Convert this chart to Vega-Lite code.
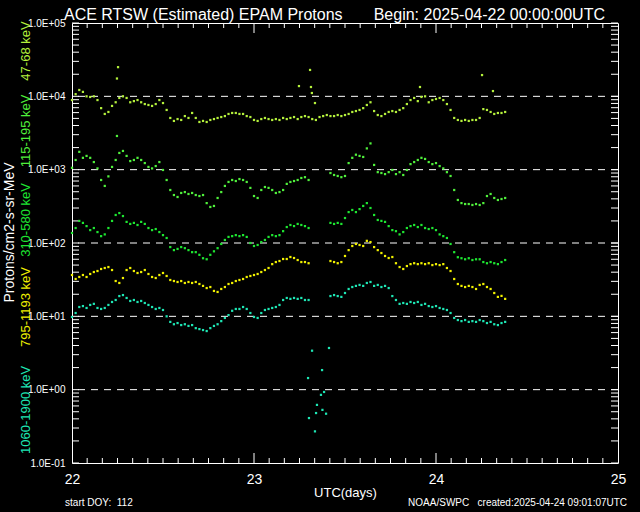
{
"$schema": "https://vega.github.io/schema/vega-lite/v6.json",
"width": 546, "height": 440,
"autosize": {"type": "none"},
"padding": {"left": 72, "top": 23, "right": 22, "bottom": 49},
"background": "black",
"config": {"view": {"stroke": "white", "strokeWidth": 1}, "axis": {"domainColor": "white", "tickColor": "white", "labelColor": "white", "titleColor": "white", "labelFont": "Liberation Sans", "titleFont": "Liberation Sans", "grid": false, "domain": false, "ticks": false}},
"datasets": {
"yticks": [{"v":0.1},{"v":0.2},{"v":0.3},{"v":0.4},{"v":0.5},{"v":0.6},{"v":0.7},{"v":0.8},{"v":0.9},{"v":1},{"v":2},{"v":3},{"v":4},{"v":5},{"v":6},{"v":7},{"v":8},{"v":9},{"v":10},{"v":20},{"v":30},{"v":40},{"v":50},{"v":60},{"v":70},{"v":80},{"v":90},{"v":100},{"v":200},{"v":300},{"v":400},{"v":500},{"v":600},{"v":700},{"v":800},{"v":900},{"v":1000},{"v":2000},{"v":3000},{"v":4000},{"v":5000},{"v":6000},{"v":7000},{"v":8000},{"v":9000},{"v":10000},{"v":20000},{"v":30000},{"v":40000},{"v":50000},{"v":60000},{"v":70000},{"v":80000},{"v":90000},{"v":100000}],
"xminor": [{"t":22.0833},{"t":22.1667},{"t":22.25},{"t":22.3333},{"t":22.4167},{"t":22.5},{"t":22.5833},{"t":22.6667},{"t":22.75},{"t":22.8333},{"t":22.9167},{"t":23.0833},{"t":23.1667},{"t":23.25},{"t":23.3333},{"t":23.4167},{"t":23.5},{"t":23.5833},{"t":23.6667},{"t":23.75},{"t":23.8333},{"t":23.9167},{"t":24.0833},{"t":24.1667},{"t":24.25},{"t":24.3333},{"t":24.4167},{"t":24.5},{"t":24.5833},{"t":24.6667},{"t":24.75},{"t":24.8333},{"t":24.9167}],
"xmajor": [{"t":23},{"t":24}],
"grid": [{"flux": 1}, {"flux": 10}, {"flux": 100}, {"flux": 1000}, {"flux": 10000}]
},
"data": {"values": [
{"ch":"47-68","day":22.00,"flux":8900},{"ch":"47-68","day":22.02,"flux":10700},{"ch":"47-68","day":22.04,"flux":12200},{"ch":"47-68","day":22.06,"flux":11500},{"ch":"47-68","day":22.08,"flux":10000},{"ch":"47-68","day":22.10,"flux":9800},{"ch":"47-68","day":22.12,"flux":10000},{"ch":"47-68","day":22.14,"flux":8900},{"ch":"47-68","day":22.16,"flux":6900},{"ch":"47-68","day":22.18,"flux":5750},{"ch":"47-68","day":22.20,"flux":6120},{"ch":"47-68","day":22.22,"flux":7400},{"ch":"47-68","day":22.24,"flux":8300},{"ch":"47-68","day":22.26,"flux":9500},{"ch":"47-68","day":22.28,"flux":10000},{"ch":"47-68","day":22.30,"flux":9500},{"ch":"47-68","day":22.32,"flux":8300},{"ch":"47-68","day":22.34,"flux":8600},{"ch":"47-68","day":22.36,"flux":8900},{"ch":"47-68","day":22.38,"flux":8300},{"ch":"47-68","day":22.40,"flux":7850},{"ch":"47-68","day":22.42,"flux":7620},{"ch":"47-68","day":22.44,"flux":7400},{"ch":"47-68","day":22.46,"flux":7850},{"ch":"47-68","day":22.48,"flux":8900},{"ch":"47-68","day":22.50,"flux":8100},{"ch":"47-68","day":22.52,"flux":6520},{"ch":"47-68","day":22.54,"flux":5070},{"ch":"47-68","day":22.56,"flux":4620},{"ch":"47-68","day":22.58,"flux":4900},{"ch":"47-68","day":22.60,"flux":4760},{"ch":"47-68","day":22.62,"flux":5380},{"ch":"47-68","day":22.64,"flux":5070},{"ch":"47-68","day":22.66,"flux":5930},{"ch":"47-68","day":22.68,"flux":5070},{"ch":"47-68","day":22.70,"flux":4470},{"ch":"47-68","day":22.72,"flux":4620},{"ch":"47-68","day":22.74,"flux":4470},{"ch":"47-68","day":22.76,"flux":4760},{"ch":"47-68","day":22.78,"flux":4900},{"ch":"47-68","day":22.80,"flux":5070},{"ch":"47-68","day":22.82,"flux":5220},{"ch":"47-68","day":22.84,"flux":5380},{"ch":"47-68","day":22.86,"flux":5750},{"ch":"47-68","day":22.88,"flux":5930},{"ch":"47-68","day":22.90,"flux":5930},{"ch":"47-68","day":22.92,"flux":5750},{"ch":"47-68","day":22.94,"flux":5750},{"ch":"47-68","day":22.96,"flux":5380},{"ch":"47-68","day":22.98,"flux":5220},{"ch":"47-68","day":23.00,"flux":4760},{"ch":"47-68","day":23.02,"flux":4620},{"ch":"47-68","day":23.04,"flux":4900},{"ch":"47-68","day":23.06,"flux":5070},{"ch":"47-68","day":23.08,"flux":4900},{"ch":"47-68","day":23.10,"flux":4760},{"ch":"47-68","day":23.12,"flux":4900},{"ch":"47-68","day":23.14,"flux":4760},{"ch":"47-68","day":23.16,"flux":5070},{"ch":"47-68","day":23.18,"flux":4900},{"ch":"47-68","day":23.20,"flux":5070},{"ch":"47-68","day":23.22,"flux":5220},{"ch":"47-68","day":23.24,"flux":4900},{"ch":"47-68","day":23.26,"flux":5220},{"ch":"47-68","day":23.28,"flux":5380},{"ch":"47-68","day":23.30,"flux":5220},{"ch":"47-68","day":23.32,"flux":4900},{"ch":"47-68","day":23.34,"flux":4760},{"ch":"47-68","day":23.36,"flux":5220},{"ch":"47-68","day":23.38,"flux":5380},{"ch":"47-68","day":23.40,"flux":5560},{"ch":"47-68","day":23.42,"flux":5380},{"ch":"47-68","day":23.44,"flux":5380},{"ch":"47-68","day":23.46,"flux":5560},{"ch":"47-68","day":23.48,"flux":5380},{"ch":"47-68","day":23.50,"flux":5560},{"ch":"47-68","day":23.52,"flux":5750},{"ch":"47-68","day":23.54,"flux":6120},{"ch":"47-68","day":23.56,"flux":6300},{"ch":"47-68","day":23.58,"flux":6520},{"ch":"47-68","day":23.60,"flux":6900},{"ch":"47-68","day":23.62,"flux":7620},{"ch":"47-68","day":23.64,"flux":8300},{"ch":"47-68","day":23.66,"flux":6300},{"ch":"47-68","day":23.68,"flux":5560},{"ch":"47-68","day":23.70,"flux":5380},{"ch":"47-68","day":23.72,"flux":5750},{"ch":"47-68","day":23.74,"flux":6120},{"ch":"47-68","day":23.76,"flux":6300},{"ch":"47-68","day":23.78,"flux":6120},{"ch":"47-68","day":23.80,"flux":6520},{"ch":"47-68","day":23.82,"flux":6900},{"ch":"47-68","day":23.84,"flux":7850},{"ch":"47-68","day":23.86,"flux":8900},{"ch":"47-68","day":23.88,"flux":9500},{"ch":"47-68","day":23.90,"flux":8600},{"ch":"47-68","day":23.92,"flux":9800},{"ch":"47-68","day":23.94,"flux":10000},{"ch":"47-68","day":23.96,"flux":8300},{"ch":"47-68","day":23.98,"flux":8900},{"ch":"47-68","day":24.00,"flux":9200},{"ch":"47-68","day":24.02,"flux":9500},{"ch":"47-68","day":24.04,"flux":8900},{"ch":"47-68","day":24.06,"flux":7850},{"ch":"47-68","day":24.08,"flux":6520},{"ch":"47-68","day":24.10,"flux":5070},{"ch":"47-68","day":24.12,"flux":4760},{"ch":"47-68","day":24.14,"flux":4620},{"ch":"47-68","day":24.16,"flux":4760},{"ch":"47-68","day":24.18,"flux":4620},{"ch":"47-68","day":24.20,"flux":4760},{"ch":"47-68","day":24.22,"flux":4760},{"ch":"47-68","day":24.24,"flux":5070},{"ch":"47-68","day":24.26,"flux":6700},{"ch":"47-68","day":24.28,"flux":6520},{"ch":"47-68","day":24.30,"flux":6120},{"ch":"47-68","day":24.32,"flux":5750},{"ch":"47-68","day":24.34,"flux":5930},{"ch":"47-68","day":24.36,"flux":5930},{"ch":"47-68","day":24.38,"flux":6120},
{"ch":"47-68","day":23.308,"flux":22900},{"ch":"47-68","day":23.247,"flux":13800},{"ch":"47-68","day":23.313,"flux":13400},{"ch":"47-68","day":23.318,"flux":11100},{"ch":"47-68","day":23.335,"flux":8100},{"ch":"47-68","day":22.253,"flux":25000},{"ch":"47-68","day":22.247,"flux":17500},{"ch":"47-68","day":24.253,"flux":19500},{"ch":"47-68","day":24.313,"flux":11800},{"ch":"47-68","day":23.912,"flux":13400},
{"ch":"115-195","day":22.00,"flux":1060},{"ch":"115-195","day":22.02,"flux":1355},{"ch":"115-195","day":22.04,"flux":1750},{"ch":"115-195","day":22.06,"flux":1450},{"ch":"115-195","day":22.08,"flux":1540},{"ch":"115-195","day":22.10,"flux":1450},{"ch":"115-195","day":22.12,"flux":1270},{"ch":"115-195","day":22.14,"flux":1040},{"ch":"115-195","day":22.16,"flux":723},{"ch":"115-195","day":22.18,"flux":600},{"ch":"115-195","day":22.20,"flux":810},{"ch":"115-195","day":22.22,"flux":1090},{"ch":"115-195","day":22.24,"flux":1355},{"ch":"115-195","day":22.26,"flux":1690},{"ch":"115-195","day":22.28,"flux":1800},{"ch":"115-195","day":22.30,"flux":1540},{"ch":"115-195","day":22.32,"flux":1310},{"ch":"115-195","day":22.34,"flux":1355},{"ch":"115-195","day":22.36,"flux":1450},{"ch":"115-195","day":22.38,"flux":1355},{"ch":"115-195","day":22.40,"flux":1230},{"ch":"115-195","day":22.42,"flux":1090},{"ch":"115-195","day":22.44,"flux":1040},{"ch":"115-195","day":22.46,"flux":1120},{"ch":"115-195","day":22.48,"flux":1270},{"ch":"115-195","day":22.50,"flux":990},{"ch":"115-195","day":22.52,"flux":723},{"ch":"115-195","day":22.54,"flux":528},{"ch":"115-195","day":22.56,"flux":451},{"ch":"115-195","day":22.58,"flux":424},{"ch":"115-195","day":22.60,"flux":481},{"ch":"115-195","day":22.62,"flux":495},{"ch":"115-195","day":22.64,"flux":466},{"ch":"115-195","day":22.66,"flux":481},{"ch":"115-195","day":22.68,"flux":451},{"ch":"115-195","day":22.70,"flux":437},{"ch":"115-195","day":22.72,"flux":451},{"ch":"115-195","day":22.74,"flux":350},{"ch":"115-195","day":22.76,"flux":310},{"ch":"115-195","day":22.78,"flux":320},{"ch":"115-195","day":22.80,"flux":411},{"ch":"115-195","day":22.82,"flux":495},{"ch":"115-195","day":22.84,"flux":600},{"ch":"115-195","day":22.86,"flux":680},{"ch":"115-195","day":22.88,"flux":723},{"ch":"115-195","day":22.90,"flux":700},{"ch":"115-195","day":22.92,"flux":745},{"ch":"115-195","day":22.94,"flux":723},{"ch":"115-195","day":22.96,"flux":680},{"ch":"115-195","day":22.98,"flux":564},{"ch":"115-195","day":23.00,"flux":437},{"ch":"115-195","day":23.02,"flux":411},{"ch":"115-195","day":23.04,"flux":528},{"ch":"115-195","day":23.06,"flux":580},{"ch":"115-195","day":23.08,"flux":564},{"ch":"115-195","day":23.10,"flux":528},{"ch":"115-195","day":23.12,"flux":481},{"ch":"115-195","day":23.14,"flux":495},{"ch":"115-195","day":23.16,"flux":528},{"ch":"115-195","day":23.18,"flux":640},{"ch":"115-195","day":23.20,"flux":680},{"ch":"115-195","day":23.22,"flux":700},{"ch":"115-195","day":23.24,"flux":723},{"ch":"115-195","day":23.26,"flux":770},{"ch":"115-195","day":23.28,"flux":790},{"ch":"115-195","day":23.30,"flux":723},{"ch":"115-195","day":23.42,"flux":900},{"ch":"115-195","day":23.44,"flux":846},{"ch":"115-195","day":23.46,"flux":820},{"ch":"115-195","day":23.48,"flux":790},{"ch":"115-195","day":23.50,"flux":820},{"ch":"115-195","day":23.52,"flux":1230},{"ch":"115-195","day":23.54,"flux":1450},{"ch":"115-195","day":23.56,"flux":1600},{"ch":"115-195","day":23.58,"flux":1540},{"ch":"115-195","day":23.60,"flux":1490},{"ch":"115-195","day":23.62,"flux":1950},{"ch":"115-195","day":23.64,"flux":2280},{"ch":"115-195","day":23.66,"flux":1160},{"ch":"115-195","day":23.68,"flux":925},{"ch":"115-195","day":23.70,"flux":900},{"ch":"115-195","day":23.72,"flux":870},{"ch":"115-195","day":23.74,"flux":925},{"ch":"115-195","day":23.76,"flux":990},{"ch":"115-195","day":23.78,"flux":870},{"ch":"115-195","day":23.80,"flux":925},{"ch":"115-195","day":23.82,"flux":846},{"ch":"115-195","day":23.84,"flux":990},{"ch":"115-195","day":23.86,"flux":1190},{"ch":"115-195","day":23.88,"flux":1270},{"ch":"115-195","day":23.90,"flux":1355},{"ch":"115-195","day":23.92,"flux":1450},{"ch":"115-195","day":23.94,"flux":1400},{"ch":"115-195","day":23.96,"flux":1270},{"ch":"115-195","day":23.98,"flux":1190},{"ch":"115-195","day":24.00,"flux":1230},{"ch":"115-195","day":24.02,"flux":1120},{"ch":"115-195","day":24.04,"flux":1040},{"ch":"115-195","day":24.06,"flux":925},{"ch":"115-195","day":24.08,"flux":820},{"ch":"115-195","day":24.10,"flux":528},{"ch":"115-195","day":24.12,"flux":386},{"ch":"115-195","day":24.14,"flux":350},{"ch":"115-195","day":24.16,"flux":340},{"ch":"115-195","day":24.18,"flux":340},{"ch":"115-195","day":24.20,"flux":330},{"ch":"115-195","day":24.22,"flux":340},{"ch":"115-195","day":24.24,"flux":330},{"ch":"115-195","day":24.26,"flux":350},{"ch":"115-195","day":24.28,"flux":437},{"ch":"115-195","day":24.30,"flux":466},{"ch":"115-195","day":24.32,"flux":411},{"ch":"115-195","day":24.34,"flux":386},{"ch":"115-195","day":24.36,"flux":398},{"ch":"115-195","day":24.38,"flux":411},{"ch":"115-195","day":22.247,"flux":2880},
{"ch":"310-580","day":22.00,"flux":137},{"ch":"310-580","day":22.02,"flux":160},{"ch":"310-580","day":22.04,"flux":200},{"ch":"310-580","day":22.06,"flux":188},{"ch":"310-580","day":22.08,"flux":170},{"ch":"310-580","day":22.10,"flux":150},{"ch":"310-580","day":22.12,"flux":160},{"ch":"310-580","day":22.14,"flux":141},{"ch":"310-580","day":22.16,"flux":124},{"ch":"310-580","day":22.18,"flux":131},{"ch":"310-580","day":22.20,"flux":160},{"ch":"310-580","day":22.22,"flux":200},{"ch":"310-580","day":22.24,"flux":241},{"ch":"310-580","day":22.26,"flux":256},{"ch":"310-580","day":22.28,"flux":233},{"ch":"310-580","day":22.30,"flux":194},{"ch":"310-580","day":22.32,"flux":182},{"ch":"310-580","day":22.34,"flux":188},{"ch":"310-580","day":22.36,"flux":176},{"ch":"310-580","day":22.38,"flux":194},{"ch":"310-580","day":22.40,"flux":182},{"ch":"310-580","day":22.42,"flux":160},{"ch":"310-580","day":22.44,"flux":150},{"ch":"310-580","day":22.46,"flux":155},{"ch":"310-580","day":22.48,"flux":141},{"ch":"310-580","day":22.50,"flux":128},{"ch":"310-580","day":22.52,"flux":117},{"ch":"310-580","day":22.54,"flux":88},{"ch":"310-580","day":22.56,"flux":80},{"ch":"310-580","day":22.58,"flux":83},{"ch":"310-580","day":22.60,"flux":88},{"ch":"310-580","day":22.62,"flux":85},{"ch":"310-580","day":22.64,"flux":80},{"ch":"310-580","day":22.66,"flux":75},{"ch":"310-580","day":22.68,"flux":75},{"ch":"310-580","day":22.70,"flux":69},{"ch":"310-580","day":22.72,"flux":62},{"ch":"310-580","day":22.74,"flux":60},{"ch":"310-580","day":22.76,"flux":69},{"ch":"310-580","day":22.78,"flux":77},{"ch":"310-580","day":22.80,"flux":85},{"ch":"310-580","day":22.82,"flux":97},{"ch":"310-580","day":22.84,"flux":110},{"ch":"310-580","day":22.86,"flux":121},{"ch":"310-580","day":22.88,"flux":124},{"ch":"310-580","day":22.90,"flux":128},{"ch":"310-580","day":22.92,"flux":124},{"ch":"310-580","day":22.94,"flux":128},{"ch":"310-580","day":22.96,"flux":121},{"ch":"310-580","day":22.98,"flux":100},{"ch":"310-580","day":23.00,"flux":91},{"ch":"310-580","day":23.02,"flux":94},{"ch":"310-580","day":23.04,"flux":103},{"ch":"310-580","day":23.06,"flux":110},{"ch":"310-580","day":23.08,"flux":121},{"ch":"310-580","day":23.10,"flux":128},{"ch":"310-580","day":23.12,"flux":124},{"ch":"310-580","day":23.14,"flux":128},{"ch":"310-580","day":23.16,"flux":145},{"ch":"310-580","day":23.18,"flux":165},{"ch":"310-580","day":23.20,"flux":176},{"ch":"310-580","day":23.22,"flux":170},{"ch":"310-580","day":23.24,"flux":182},{"ch":"310-580","day":23.26,"flux":176},{"ch":"310-580","day":23.28,"flux":170},{"ch":"310-580","day":23.30,"flux":160},{"ch":"310-580","day":23.42,"flux":188},{"ch":"310-580","day":23.44,"flux":182},{"ch":"310-580","day":23.46,"flux":188},{"ch":"310-580","day":23.48,"flux":182},{"ch":"310-580","day":23.50,"flux":219},{"ch":"310-580","day":23.52,"flux":264},{"ch":"310-580","day":23.54,"flux":282},{"ch":"310-580","day":23.56,"flux":264},{"ch":"310-580","day":23.58,"flux":290},{"ch":"310-580","day":23.60,"flux":320},{"ch":"310-580","day":23.62,"flux":350},{"ch":"310-580","day":23.64,"flux":300},{"ch":"310-580","day":23.66,"flux":241},{"ch":"310-580","day":23.68,"flux":206},{"ch":"310-580","day":23.70,"flux":200},{"ch":"310-580","day":23.72,"flux":194},{"ch":"310-580","day":23.74,"flux":170},{"ch":"310-580","day":23.76,"flux":150},{"ch":"310-580","day":23.78,"flux":145},{"ch":"310-580","day":23.80,"flux":131},{"ch":"310-580","day":23.82,"flux":141},{"ch":"310-580","day":23.84,"flux":160},{"ch":"310-580","day":23.86,"flux":170},{"ch":"310-580","day":23.88,"flux":176},{"ch":"310-580","day":23.90,"flux":165},{"ch":"310-580","day":23.92,"flux":176},{"ch":"310-580","day":23.94,"flux":160},{"ch":"310-580","day":23.96,"flux":155},{"ch":"310-580","day":23.98,"flux":160},{"ch":"310-580","day":24.00,"flux":150},{"ch":"310-580","day":24.02,"flux":131},{"ch":"310-580","day":24.04,"flux":124},{"ch":"310-580","day":24.06,"flux":117},{"ch":"310-580","day":24.08,"flux":97},{"ch":"310-580","day":24.10,"flux":75},{"ch":"310-580","day":24.12,"flux":64},{"ch":"310-580","day":24.14,"flux":62},{"ch":"310-580","day":24.16,"flux":60},{"ch":"310-580","day":24.18,"flux":62},{"ch":"310-580","day":24.20,"flux":58.6},{"ch":"310-580","day":24.22,"flux":60},{"ch":"310-580","day":24.24,"flux":60},{"ch":"310-580","day":24.26,"flux":55},{"ch":"310-580","day":24.28,"flux":53},{"ch":"310-580","day":24.30,"flux":55},{"ch":"310-580","day":24.32,"flux":53},{"ch":"310-580","day":24.34,"flux":51.5},{"ch":"310-580","day":24.36,"flux":55},{"ch":"310-580","day":24.38,"flux":58.6},
{"ch":"795-1193","day":22.00,"flux":36.6},{"ch":"795-1193","day":22.02,"flux":32.3},{"ch":"795-1193","day":22.04,"flux":34.4},{"ch":"795-1193","day":22.06,"flux":36.6},{"ch":"795-1193","day":22.08,"flux":34.4},{"ch":"795-1193","day":22.10,"flux":37.8},{"ch":"795-1193","day":22.12,"flux":40.2},{"ch":"795-1193","day":22.14,"flux":41.5},{"ch":"795-1193","day":22.16,"flux":44.2},{"ch":"795-1193","day":22.18,"flux":45.6},{"ch":"795-1193","day":22.20,"flux":47},{"ch":"795-1193","day":22.22,"flux":42.8},{"ch":"795-1193","day":22.24,"flux":30.3},{"ch":"795-1193","day":22.26,"flux":28.5},{"ch":"795-1193","day":22.28,"flux":33.3},{"ch":"795-1193","day":22.30,"flux":42.8},{"ch":"795-1193","day":22.32,"flux":45.6},{"ch":"795-1193","day":22.34,"flux":41.5},{"ch":"795-1193","day":22.36,"flux":39},{"ch":"795-1193","day":22.38,"flux":40.2},{"ch":"795-1193","day":22.40,"flux":42.8},{"ch":"795-1193","day":22.42,"flux":37.8},{"ch":"795-1193","day":22.44,"flux":34.4},{"ch":"795-1193","day":22.46,"flux":33.3},{"ch":"795-1193","day":22.48,"flux":36.6},{"ch":"795-1193","day":22.50,"flux":39},{"ch":"795-1193","day":22.52,"flux":35.5},{"ch":"795-1193","day":22.54,"flux":31.3},{"ch":"795-1193","day":22.56,"flux":30.3},{"ch":"795-1193","day":22.58,"flux":29.4},{"ch":"795-1193","day":22.60,"flux":30.3},{"ch":"795-1193","day":22.62,"flux":28.5},{"ch":"795-1193","day":22.64,"flux":29.4},{"ch":"795-1193","day":22.66,"flux":28.5},{"ch":"795-1193","day":22.68,"flux":29.4},{"ch":"795-1193","day":22.70,"flux":27.6},{"ch":"795-1193","day":22.72,"flux":26},{"ch":"795-1193","day":22.74,"flux":24.3},{"ch":"795-1193","day":22.76,"flux":25.1},{"ch":"795-1193","day":22.78,"flux":22.2},{"ch":"795-1193","day":22.80,"flux":21.5},{"ch":"795-1193","day":22.82,"flux":23.6},{"ch":"795-1193","day":22.84,"flux":25.1},{"ch":"795-1193","day":22.86,"flux":27.6},{"ch":"795-1193","day":22.88,"flux":28.5},{"ch":"795-1193","day":22.90,"flux":30.3},{"ch":"795-1193","day":22.92,"flux":31.3},{"ch":"795-1193","day":22.94,"flux":32.3},{"ch":"795-1193","day":22.96,"flux":34.4},{"ch":"795-1193","day":22.98,"flux":35.5},{"ch":"795-1193","day":23.00,"flux":36.6},{"ch":"795-1193","day":23.02,"flux":37.8},{"ch":"795-1193","day":23.04,"flux":40.2},{"ch":"795-1193","day":23.06,"flux":42.8},{"ch":"795-1193","day":23.08,"flux":45.6},{"ch":"795-1193","day":23.10,"flux":51.5},{"ch":"795-1193","day":23.12,"flux":55},{"ch":"795-1193","day":23.14,"flux":56.8},{"ch":"795-1193","day":23.16,"flux":60.5},{"ch":"795-1193","day":23.18,"flux":60.5},{"ch":"795-1193","day":23.20,"flux":64.4},{"ch":"795-1193","day":23.22,"flux":62.4},{"ch":"795-1193","day":23.24,"flux":58.6},{"ch":"795-1193","day":23.26,"flux":55},{"ch":"795-1193","day":23.28,"flux":55},{"ch":"795-1193","day":23.30,"flux":53},{"ch":"795-1193","day":23.42,"flux":56.8},{"ch":"795-1193","day":23.44,"flux":55},{"ch":"795-1193","day":23.46,"flux":53},{"ch":"795-1193","day":23.48,"flux":55},{"ch":"795-1193","day":23.50,"flux":66.5},{"ch":"795-1193","day":23.52,"flux":80},{"ch":"795-1193","day":23.54,"flux":91},{"ch":"795-1193","day":23.56,"flux":97},{"ch":"795-1193","day":23.58,"flux":94},{"ch":"795-1193","day":23.60,"flux":91},{"ch":"795-1193","day":23.62,"flux":107},{"ch":"795-1193","day":23.64,"flux":103},{"ch":"795-1193","day":23.66,"flux":88},{"ch":"795-1193","day":23.68,"flux":80},{"ch":"795-1193","day":23.70,"flux":73},{"ch":"795-1193","day":23.72,"flux":66.5},{"ch":"795-1193","day":23.74,"flux":62.4},{"ch":"795-1193","day":23.76,"flux":64.4},{"ch":"795-1193","day":23.78,"flux":53},{"ch":"795-1193","day":23.80,"flux":47},{"ch":"795-1193","day":23.82,"flux":44.2},{"ch":"795-1193","day":23.84,"flux":48.5},{"ch":"795-1193","day":23.86,"flux":51.5},{"ch":"795-1193","day":23.88,"flux":53},{"ch":"795-1193","day":23.90,"flux":51.5},{"ch":"795-1193","day":23.92,"flux":53},{"ch":"795-1193","day":23.94,"flux":51.5},{"ch":"795-1193","day":23.96,"flux":53},{"ch":"795-1193","day":23.98,"flux":50},{"ch":"795-1193","day":24.00,"flux":51.5},{"ch":"795-1193","day":24.02,"flux":50},{"ch":"795-1193","day":24.04,"flux":51.5},{"ch":"795-1193","day":24.06,"flux":45.6},{"ch":"795-1193","day":24.08,"flux":41.5},{"ch":"795-1193","day":24.10,"flux":32.3},{"ch":"795-1193","day":24.12,"flux":27.6},{"ch":"795-1193","day":24.14,"flux":26},{"ch":"795-1193","day":24.16,"flux":25.1},{"ch":"795-1193","day":24.18,"flux":26},{"ch":"795-1193","day":24.20,"flux":25.1},{"ch":"795-1193","day":24.22,"flux":23.6},{"ch":"795-1193","day":24.24,"flux":26.8},{"ch":"795-1193","day":24.26,"flux":27.6},{"ch":"795-1193","day":24.28,"flux":25.1},{"ch":"795-1193","day":24.30,"flux":23.6},{"ch":"795-1193","day":24.32,"flux":20.8},{"ch":"795-1193","day":24.34,"flux":18.4},{"ch":"795-1193","day":24.36,"flux":19},{"ch":"795-1193","day":24.38,"flux":17.3},
{"ch":"1060-1900","day":22.00,"flux":9.8},{"ch":"1060-1900","day":22.02,"flux":11.1},{"ch":"1060-1900","day":22.04,"flux":13.4},{"ch":"1060-1900","day":22.06,"flux":13.8},{"ch":"1060-1900","day":22.08,"flux":13},{"ch":"1060-1900","day":22.10,"flux":14.3},{"ch":"1060-1900","day":22.12,"flux":14.8},{"ch":"1060-1900","day":22.14,"flux":13},{"ch":"1060-1900","day":22.16,"flux":12.6},{"ch":"1060-1900","day":22.18,"flux":13},{"ch":"1060-1900","day":22.20,"flux":14.3},{"ch":"1060-1900","day":22.22,"flux":15.7},{"ch":"1060-1900","day":22.24,"flux":16.7},{"ch":"1060-1900","day":22.26,"flux":18.9},{"ch":"1060-1900","day":22.28,"flux":19.5},{"ch":"1060-1900","day":22.30,"flux":17.8},{"ch":"1060-1900","day":22.32,"flux":16.2},{"ch":"1060-1900","day":22.34,"flux":16.7},{"ch":"1060-1900","day":22.36,"flux":15.7},{"ch":"1060-1900","day":22.38,"flux":16.2},{"ch":"1060-1900","day":22.40,"flux":15.2},{"ch":"1060-1900","day":22.42,"flux":14.3},{"ch":"1060-1900","day":22.44,"flux":13.4},{"ch":"1060-1900","day":22.46,"flux":12.6},{"ch":"1060-1900","day":22.48,"flux":13},{"ch":"1060-1900","day":22.50,"flux":12.2},{"ch":"1060-1900","day":22.52,"flux":10},{"ch":"1060-1900","day":22.54,"flux":8.4},{"ch":"1060-1900","day":22.56,"flux":7.8},{"ch":"1060-1900","day":22.58,"flux":8.1},{"ch":"1060-1900","day":22.60,"flux":7.6},{"ch":"1060-1900","day":22.62,"flux":7.8},{"ch":"1060-1900","day":22.64,"flux":7.4},{"ch":"1060-1900","day":22.66,"flux":7.6},{"ch":"1060-1900","day":22.68,"flux":6.9},{"ch":"1060-1900","day":22.70,"flux":6.7},{"ch":"1060-1900","day":22.72,"flux":6.5},{"ch":"1060-1900","day":22.74,"flux":6.3},{"ch":"1060-1900","day":22.76,"flux":6.9},{"ch":"1060-1900","day":22.78,"flux":7.4},{"ch":"1060-1900","day":22.80,"flux":7.8},{"ch":"1060-1900","day":22.82,"flux":8.6},{"ch":"1060-1900","day":22.84,"flux":9.5},{"ch":"1060-1900","day":22.86,"flux":10.4},{"ch":"1060-1900","day":22.88,"flux":11.9},{"ch":"1060-1900","day":22.90,"flux":12.6},{"ch":"1060-1900","day":22.92,"flux":12.6},{"ch":"1060-1900","day":22.94,"flux":13.4},{"ch":"1060-1900","day":22.96,"flux":12.6},{"ch":"1060-1900","day":22.98,"flux":11.1},{"ch":"1060-1900","day":23.00,"flux":9.8},{"ch":"1060-1900","day":23.02,"flux":9.5},{"ch":"1060-1900","day":23.04,"flux":11.1},{"ch":"1060-1900","day":23.06,"flux":12.2},{"ch":"1060-1900","day":23.08,"flux":12.6},{"ch":"1060-1900","day":23.10,"flux":13},{"ch":"1060-1900","day":23.12,"flux":13.4},{"ch":"1060-1900","day":23.14,"flux":14.3},{"ch":"1060-1900","day":23.16,"flux":16.7},{"ch":"1060-1900","day":23.18,"flux":17.8},{"ch":"1060-1900","day":23.20,"flux":17.3},{"ch":"1060-1900","day":23.22,"flux":17.8},{"ch":"1060-1900","day":23.24,"flux":17.3},{"ch":"1060-1900","day":23.26,"flux":17.8},{"ch":"1060-1900","day":23.28,"flux":16.7},{"ch":"1060-1900","day":23.30,"flux":16.7},{"ch":"1060-1900","day":23.42,"flux":18.9},{"ch":"1060-1900","day":23.44,"flux":19.5},{"ch":"1060-1900","day":23.46,"flux":18.9},{"ch":"1060-1900","day":23.48,"flux":18.4},{"ch":"1060-1900","day":23.50,"flux":20.8},{"ch":"1060-1900","day":23.52,"flux":23.6},{"ch":"1060-1900","day":23.54,"flux":25.1},{"ch":"1060-1900","day":23.56,"flux":26},{"ch":"1060-1900","day":23.58,"flux":26.8},{"ch":"1060-1900","day":23.60,"flux":26},{"ch":"1060-1900","day":23.62,"flux":28.5},{"ch":"1060-1900","day":23.64,"flux":29.4},{"ch":"1060-1900","day":23.66,"flux":26},{"ch":"1060-1900","day":23.68,"flux":26.8},{"ch":"1060-1900","day":23.70,"flux":25.1},{"ch":"1060-1900","day":23.72,"flux":26},{"ch":"1060-1900","day":23.74,"flux":24.3},{"ch":"1060-1900","day":23.76,"flux":18.9},{"ch":"1060-1900","day":23.78,"flux":16.7},{"ch":"1060-1900","day":23.80,"flux":14.8},{"ch":"1060-1900","day":23.82,"flux":15.2},{"ch":"1060-1900","day":23.84,"flux":14.8},{"ch":"1060-1900","day":23.86,"flux":15.7},{"ch":"1060-1900","day":23.88,"flux":15.2},{"ch":"1060-1900","day":23.90,"flux":15.7},{"ch":"1060-1900","day":23.92,"flux":14.3},{"ch":"1060-1900","day":23.94,"flux":14.8},{"ch":"1060-1900","day":23.96,"flux":13.8},{"ch":"1060-1900","day":23.98,"flux":13.4},{"ch":"1060-1900","day":24.00,"flux":13.8},{"ch":"1060-1900","day":24.02,"flux":13},{"ch":"1060-1900","day":24.04,"flux":12.6},{"ch":"1060-1900","day":24.06,"flux":12.2},{"ch":"1060-1900","day":24.08,"flux":11.1},{"ch":"1060-1900","day":24.10,"flux":9.5},{"ch":"1060-1900","day":24.12,"flux":8.9},{"ch":"1060-1900","day":24.14,"flux":8.6},{"ch":"1060-1900","day":24.16,"flux":8.9},{"ch":"1060-1900","day":24.18,"flux":8.4},{"ch":"1060-1900","day":24.20,"flux":8.6},{"ch":"1060-1900","day":24.22,"flux":8.4},{"ch":"1060-1900","day":24.24,"flux":8.9},{"ch":"1060-1900","day":24.26,"flux":8.6},{"ch":"1060-1900","day":24.28,"flux":8.1},{"ch":"1060-1900","day":24.30,"flux":8.4},{"ch":"1060-1900","day":24.32,"flux":7.8},{"ch":"1060-1900","day":24.34,"flux":7.6},{"ch":"1060-1900","day":24.36,"flux":8.1},{"ch":"1060-1900","day":24.38,"flux":8.4},
{"ch":"1060-1900","day":23.412,"flux":3.7},{"ch":"1060-1900","day":23.319,"flux":3.4},{"ch":"1060-1900","day":23.374,"flux":1.85},{"ch":"1060-1900","day":23.297,"flux":1.44},{"ch":"1060-1900","day":23.385,"flux":0.93},{"ch":"1060-1900","day":23.368,"flux":0.85},{"ch":"1060-1900","day":23.346,"flux":0.62},{"ch":"1060-1900","day":23.376,"flux":0.53},{"ch":"1060-1900","day":23.341,"flux":0.48},{"ch":"1060-1900","day":23.396,"flux":0.47},{"ch":"1060-1900","day":23.302,"flux":0.41},{"ch":"1060-1900","day":23.335,"flux":0.27}
]},
"layer": [
{"data": {"name": "grid"},
 "mark": {"type": "rule", "color": "white", "strokeDash": [7, 6], "strokeWidth": 1},
 "encoding": {"y": {"field": "flux", "type": "quantitative", "axis": null}}},
{"data": {"name": "yticks"},
 "mark": {"type": "rule", "color": "white", "strokeDash": [7, 532, 7], "strokeWidth": 1},
 "encoding": {"y": {"field": "v", "type": "quantitative", "axis": null}}},
{"data": {"name": "xminor"},
 "mark": {"type": "rule", "color": "white", "strokeDash": [5, 430, 5], "strokeWidth": 1},
 "encoding": {"x": {"field": "t", "type": "quantitative", "axis": null}}},
{"data": {"name": "xmajor"},
 "mark": {"type": "rule", "color": "white", "strokeDash": [10, 420, 10], "strokeWidth": 1},
 "encoding": {"x": {"field": "t", "type": "quantitative", "axis": null}}},
{"mark": {"type": "square", "size": 5, "opacity": 1},
 "encoding": {
  "x": {"field": "day", "type": "quantitative", "scale": {"domain": [22, 25], "nice": false, "zero": false}, "axis": {"orient": "bottom", "values": [22, 23, 24, 25], "format": "d", "labelFontSize": 14, "labelPadding": 9, "labelFlush": false, "labelOverlap": false, "title": "UTC(days)", "titleFontSize": 13, "titleFontWeight": "normal", "titlePadding": 0}},
  "y": {"field": "flux", "type": "quantitative", "scale": {"type": "log", "domain": [0.1, 100000], "nice": false}, "axis": {"orient": "left", "values": [0.1, 1, 10, 100, 1000, 10000, 100000], "labelFontSize": 10, "labelPadding": 7, "labelFlush": false, "labelOverlap": false, "labelExpr": "'1.0E' + (datum.value < 1 ? '-0' : '+0') + abs(round(log(datum.value) / LN10))", "title": "Protons/cm2-s-sr-MeV", "titleFontSize": 14, "titleFontWeight": "normal", "titleAngle": 270, "titleX": -63, "titleY": 209, "titleAlign": "center", "titleBaseline": "middle"}},
  "color": {"field": "ch", "type": "nominal", "scale": {"domain": ["47-68", "115-195", "310-580", "795-1193", "1060-1900"], "range": ["#b4f03c", "#50f03c", "#1ee632", "#f0f000", "#1ee6b4"]}, "legend": null}
 }},
{"data": {"values": [{}]}, "mark": {"type": "text", "font": "Liberation Sans", "fontSize": 16, "align": "left", "baseline": "alphabetic", "color": "white"},
 "encoding": {"text": {"value": "ACE RTSW (Estimated) EPAM Protons\u00a0\u00a0\u00a0\u00a0\u00a0\u00a0\u00a0Begin: 2025-04-22 00:00:00UTC"}, "x": {"datum": 21.956, "type": "quantitative", "axis": null}, "y": {"datum": 109900, "type": "quantitative", "axis": null}}},
{"data": {"values": [{}]}, "mark": {"type": "text", "angle": 270, "font": "Liberation Sans", "fontSize": 13, "align": "center", "baseline": "middle", "color": "#b4f03c"},
 "encoding": {"text": {"value": "47-68 keV"}, "x": {"datum": 21.747, "type": "quantitative", "axis": null}, "y": {"datum": 41500, "type": "quantitative", "axis": null}}},
{"data": {"values": [{}]}, "mark": {"type": "text", "angle": 270, "font": "Liberation Sans", "fontSize": 13, "align": "center", "baseline": "middle", "color": "#50f03c"},
 "encoding": {"text": {"value": "115-195 keV"}, "x": {"datum": 21.747, "type": "quantitative", "axis": null}, "y": {"datum": 3370, "type": "quantitative", "axis": null}}},
{"data": {"values": [{}]}, "mark": {"type": "text", "angle": 270, "font": "Liberation Sans", "fontSize": 13, "align": "center", "baseline": "middle", "color": "#1ee632"},
 "encoding": {"text": {"value": "310-580 keV"}, "x": {"datum": 21.747, "type": "quantitative", "axis": null}, "y": {"datum": 206, "type": "quantitative", "axis": null}}},
{"data": {"values": [{}]}, "mark": {"type": "text", "angle": 270, "font": "Liberation Sans", "fontSize": 13, "align": "center", "baseline": "middle", "color": "#f0f000"},
 "encoding": {"text": {"value": "795-1193 keV"}, "x": {"datum": 21.747, "type": "quantitative", "axis": null}, "y": {"datum": 13.4, "type": "quantitative", "axis": null}}},
{"data": {"values": [{}]}, "mark": {"type": "text", "angle": 270, "font": "Liberation Sans", "fontSize": 13, "align": "center", "baseline": "middle", "color": "#1ee6b4"},
 "encoding": {"text": {"value": "1060-1900 keV"}, "x": {"datum": 21.747, "type": "quantitative", "axis": null}, "y": {"datum": 0.53, "type": "quantitative", "axis": null}}},
{"data": {"values": [{}]}, "mark": {"type": "text", "font": "Liberation Sans", "fontSize": 10, "align": "left", "baseline": "middle", "color": "white"},
 "encoding": {"text": {"value": "start DOY:\u00a0\u00a0112"}, "x": {"datum": 21.962, "type": "quantitative", "axis": null}, "y": {"datum": 0.0284, "type": "quantitative", "axis": null}}},
{"data": {"values": [{}]}, "mark": {"type": "text", "font": "Liberation Sans", "fontSize": 10, "align": "right", "baseline": "middle", "color": "white"},
 "encoding": {"text": {"value": "NOAA/SWPC\u00a0\u00a0\u00a0created:2025-04-24 09:01:07UTC"}, "x": {"datum": 25.05, "type": "quantitative", "axis": null}, "y": {"datum": 0.0284, "type": "quantitative", "axis": null}}}
],
"resolve": {"axis": {"x": "independent", "y": "independent"}}
}
